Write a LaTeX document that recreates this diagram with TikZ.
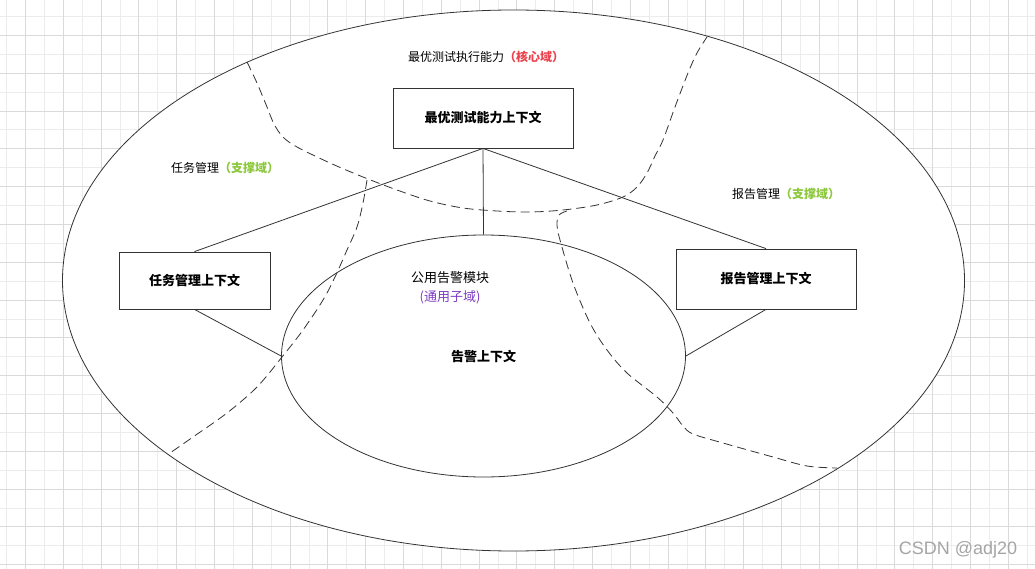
\documentclass[tikz,border=0pt]{standalone}
\usepackage{fontspec}
\setmainfont{Noto Sans CJK SC}
\newfontfamily\wmfont{Liberation Sans}
\usetikzlibrary{shapes.geometric}
\definecolor{lineC}{RGB}{51,51,51}
\definecolor{coreRed}{RGB}{234,67,78}
\definecolor{supGreen}{RGB}{140,200,60}
\definecolor{subPurple}{RGB}{125,60,195}
\definecolor{gridMajor}{RGB}{218,218,218}
\definecolor{gridMinor}{RGB}{236,236,236}
\definecolor{wmGray}{RGB}{165,165,165}
\begin{document}
\begin{tikzpicture}[x=1pt,y=-1pt,
  ctxbox/.style={draw=lineC, fill=white, line width=0.8pt, inner sep=0pt,
    font=\fontsize{13}{15}\selectfont\bfseries},
  domainshape/.style={draw=lineC, line width=0.8pt, ellipse, inner sep=0pt},
  conn/.style={draw=lineC, line width=0.8pt},
  bound/.style={draw=lineC, line width=0.8pt, dash pattern=on 9pt off 5pt},
  lbl/.style={inner sep=0pt, font=\fontsize{12}{14}\selectfont},
  wm/.style={inner sep=0pt, text=wmGray, font=\wmfont\fontsize{18}{20}\selectfont}]
\useasboundingbox (0,0) rectangle (1035,569);
\fill[white] (0,0) rectangle (1035,569);
% grid
\foreach \k in {0,...,54} {\pgfmathsetmacro\xx{6.6+18.9*\k}\draw[gridMinor, line width=1pt] (\xx,0) -- (\xx,569);}
\foreach \k in {0,...,29} {\pgfmathsetmacro\yy{16.6+18.9*\k}\draw[gridMinor, line width=1pt] (0,\yy) -- (1035,\yy);}
\foreach \k in {0,...,27} {\pgfmathsetmacro\xx{25.5+37.8*\k}\draw[gridMajor, line width=1pt] (\xx,0) -- (\xx,569);}
\foreach \k in {0,...,14} {\pgfmathsetmacro\yy{35.5+37.8*\k}\draw[gridMajor, line width=1pt] (0,\yy) -- (1035,\yy);}
% outer domain
\node[domainshape, fill=white, minimum width=902pt, minimum height=541pt] (outer) at (513.5,280.5) {};
% inner domain
\node[domainshape, minimum width=404pt, minimum height=242pt, font=\fontsize{13}{15}\selectfont\bfseries] (inner) at (483.5,356) {告警上下文};
% context boxes
\node[ctxbox, minimum width=180pt, minimum height=60pt] (core) at (483,118) {最优测试能力上下文};
\node[ctxbox, minimum width=151pt, minimum height=57pt] (task) at (194.5,280.5) {任务管理上下文};
\node[ctxbox, minimum width=180pt, minimum height=60pt] (report) at (766,279) {报告管理上下文};
% connectors
\draw[conn] (core.south) -- (task.north);
\draw[conn] (core.south) -- (report.north);
\draw[conn] (core.south) -- (inner.north);
\draw[conn] (task.south) -- (inner.west);
\draw[conn] (report.south) -- (inner.east);
% domain boundaries
\draw[bound] plot[smooth, tension=0.55] coordinates {(247,62) (257,83) (267,107) (274,124) (283,137) (297,147) (330,163) (363,177) (397,190) (430,201) (463,208) (497,211) (530,212) (563,210) (597,205) (623,197) (637,187) (647,173) (655,156) (663,140) (675,107) (688,73) (697,53) (707,37)};
\draw[bound] plot[smooth, tension=0.55] coordinates {(367,180) (363,203) (357,227) (347,250) (335,277) (323,300) (303,330) (282,357) (257,387) (227,413) (193,437) (170,453)};
\draw[bound] plot[smooth, tension=0.55] coordinates {(567,211) (559,215) (557,225) (560,240) (573,283) (590,323) (607,350) (627,373) (657,397) (673,413) (683,426) (693,434) (723,443) (773,457) (807,466) (837,468)};
% labels
\node[lbl] (coreLbl) at (486,57) {最优测试执行能力\textcolor{coreRed}{\bfseries （核心域）}};
\node[lbl] (taskLbl) at (225,168) {任务管理\textcolor{supGreen}{\bfseries （支撑域）}};
\node[lbl] (reportLbl) at (786,194) {报告管理\textcolor{supGreen}{\bfseries （支撑域）}};
\node[lbl, align=center, font=\fontsize{13}{19}\selectfont] (alarmLbl) at (450,287.5) {公用告警模块\\\textcolor{subPurple}{(通用子域)}};
\node[wm] (mark) at (958,550) {CSDN @adj20};
\end{tikzpicture}
\end{document}
